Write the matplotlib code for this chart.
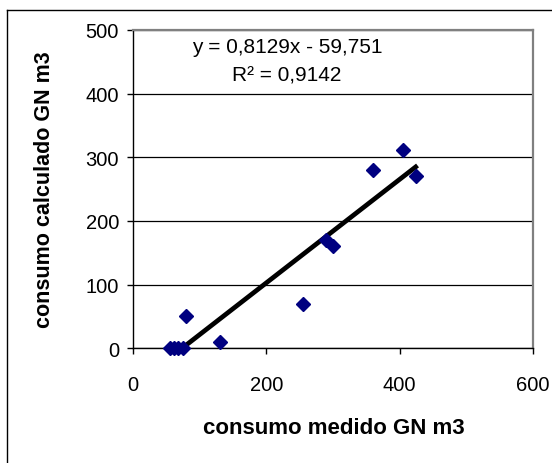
import numpy as np
import matplotlib.pyplot as plt
from matplotlib.lines import Line2D

# datos
medido = [55, 62, 68, 75, 80, 130, 255, 289, 300, 360, 405, 424]
calculado = [0, 0, 0, 0, 50, 10, 70, 170, 161, 280, 312, 270]

pendiente = 0.8129
ordenada = -59.751
r2 = 0.9142

x_ticks = [0, 200, 400, 600]
y_ticks = [0, 100, 200, 300, 400, 500]

plt.rcParams['font.family'] = ['Liberation Sans', 'DejaVu Sans']

W, H = 552, 464
fig = plt.figure(figsize=(W / 100, H / 100), dpi=100)
ax = fig.add_axes([133 / W, 1 - 349.3 / H, 400 / W, 318.3 / H])

# linea de tendencia
xt = np.array([min(medido), max(medido)])
ax.plot(xt, pendiente * xt + ordenada, color='black', lw=3.4, zorder=3)

ax.plot(medido, calculado, linestyle='none', marker='D', ms=6.8,
        color='#000080', zorder=4, clip_on=False)

ax.set_xlim(0, 600)
ax.set_ylim(0, 500)
ax.set_xticks(x_ticks)
ax.set_yticks(y_ticks)
ax.yaxis.grid(True, color='black', lw=0.9)
ax.set_axisbelow(True)

for s in ['top', 'right']:
    ax.spines[s].set_color('#808080')
    ax.spines[s].set_linewidth(1.6)
for s in ['left', 'bottom']:
    ax.spines[s].set_color('black')
    ax.spines[s].set_linewidth(1.0)

ax.tick_params(direction='out', length=4, width=1, labelsize=14.5, color='black')
ax.tick_params(axis='y', pad=6)
ax.tick_params(axis='x', pad=15)

ax.text(231, 474, 'y = ' + f'{pendiente:.4f}'.replace('.', ',') + 'x - '
        + f'{-ordenada:.3f}'.replace('.', ','), ha='center', va='center', fontsize=15)
ax.text(231, 430, 'R\u00b2 = ' + f'{r2:.4f}'.replace('.', ','),
        ha='center', va='center', fontsize=15)

fig.text(45 / W, 1 - 190 / H, 'consumo calculado GN m3', rotation=90,
         ha='center', va='center', fontsize=15.5, fontweight='bold')
fig.text(334 / W, 1 - 429 / H, 'consumo medido GN m3',
         ha='center', va='center', fontsize=16, fontweight='bold')

# marco exterior del grafico
fig.add_artist(Line2D([6.5 / W, 6.5 / W], [0, 1 - 11 / H], color='black', lw=1,
                      transform=fig.transFigure))
fig.add_artist(Line2D([6.5 / W, 1], [1 - 11 / H, 1 - 11 / H], color='black', lw=1,
                      transform=fig.transFigure))

fig.savefig('out.png', dpi=100)
